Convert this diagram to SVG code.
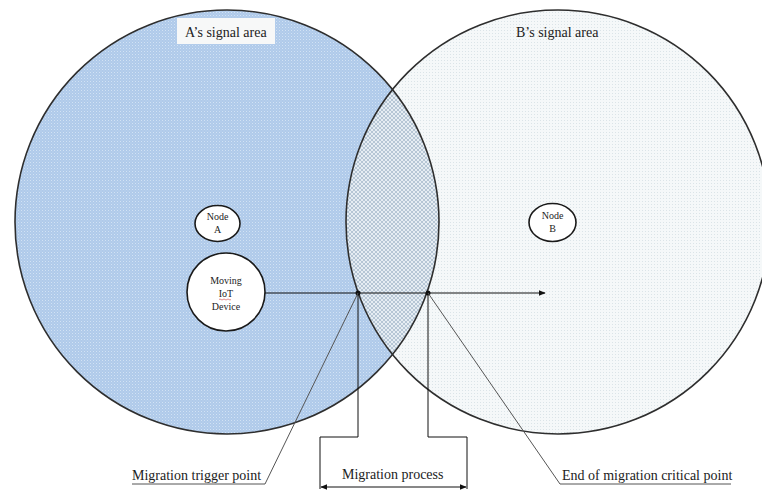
<svg xmlns="http://www.w3.org/2000/svg" width="762" height="490" viewBox="0 0 762 490">
  <style>
    text { font-family: "Liberation Serif", "Times New Roman", "DejaVu Serif", serif; fill: #222; }
    .lbl { font-size: 14px; }
    .small { font-size: 10px; text-anchor: middle; }
    .area { stroke: #2e2e2e; stroke-width: 1.6; fill: none; }
    .node { fill: #ffffff; stroke: #1a1a1a; stroke-width: 1.6; }
    .ln { stroke: #111; stroke-width: 1; fill: none; }
    .lead { stroke: #555; stroke-width: 1; fill: none; }
  </style>
  <defs>
    <pattern id="dotsA" width="3" height="3" patternUnits="userSpaceOnUse">
      <rect width="3" height="3" fill="#afcaea"/>
      <rect width="1" height="1" fill="#d2e2f4"/>
      <rect x="1.5" y="1.5" width="1" height="1" fill="#c4d8f0"/>
    </pattern>
    <pattern id="dotsB" width="3" height="3" patternUnits="userSpaceOnUse">
      <rect width="3" height="3" fill="#f5f8f9"/>
      <rect width="1" height="1" fill="#dbe4e8"/>
    </pattern>
    <pattern id="hatch" width="4" height="4" patternUnits="userSpaceOnUse">
      <rect width="4" height="4" fill="#e6edf3"/>
      <path d="M0 0 L4 4 M4 0 L0 4" stroke="#aabdcd" stroke-width="0.8"/>
    </pattern>
    <marker id="arrow" viewBox="0 0 10 10" refX="9" refY="5" markerWidth="7" markerHeight="7" orient="auto-start-reverse" markerUnits="userSpaceOnUse">
      <path d="M0 1 L10 5 L0 9 Z" fill="#111"/>
    </marker>
  </defs>

  <rect width="762" height="490" fill="#ffffff"/>

  <!-- signal areas -->
  <g id="areaA">
    <circle cx="227" cy="222" r="212" fill="url(#dotsA)"/>
  </g>
  <g id="areaB">
    <circle cx="558" cy="222" r="212" fill="url(#dotsB)"/>
  </g>
  <g id="overlap">
    <path d="M392.5 89.5 A212 212 0 0 1 392.5 354.5 A212 212 0 0 1 392.5 89.5 Z" fill="url(#hatch)"/>
  </g>
  <circle class="area" cx="227" cy="222" r="212"/>
  <circle class="area" cx="558" cy="222" r="212"/>

  <!-- area titles -->
  <g id="titleA">
    <rect x="177" y="18" width="98" height="26" fill="#f7f8f8"/>
    <text class="lbl" x="185" y="37">A’s signal area</text>
  </g>
  <g id="titleB">
    <text class="lbl" x="516" y="37">B’s signal area</text>
  </g>

  <!-- nodes -->
  <g id="nodeA">
    <ellipse class="node" cx="217.5" cy="223.5" rx="22.5" ry="18"/>
    <text class="small" x="217.5" y="219.5">Node</text>
    <text class="small" x="217.5" y="232.5">A</text>
  </g>
  <g id="nodeB">
    <ellipse class="node" cx="552.5" cy="222.5" rx="23.5" ry="19"/>
    <text class="small" x="552.5" y="219">Node</text>
    <text class="small" x="552.5" y="232">B</text>
  </g>
  <g id="device">
    <circle class="node" cx="226" cy="292" r="39"/>
    <text class="small" x="226" y="284">Moving</text>
    <text class="small" x="226" y="297">IoT</text>
    <path d="M219 299.5 q1 -1 2 0 t2 0 t2 0 t2 0 t2 0 t2 0" stroke="#d04040" stroke-width="0.6" fill="none"/>
    <text class="small" x="226" y="310">Device</text>
  </g>

  <!-- connectors -->
  <g id="connectors">
    <line class="ln" x1="265" y1="293" x2="545" y2="293" marker-end="url(#arrow)"/>
    <circle cx="358" cy="293" r="2.5" fill="#111"/>
    <circle cx="428" cy="293" r="2.5" fill="#111"/>
    <path class="ln" d="M358 293 V437 H320 V489"/>
    <path class="ln" d="M428 293 V437 H467 V489"/>
    <line class="ln" x1="321" y1="487" x2="466" y2="487" marker-start="url(#arrow)" marker-end="url(#arrow)"/>
    <path class="lead" d="M132 484 H265 L358 293"/>
    <path class="lead" d="M731 484 H560 L428 293"/>
  </g>

  <!-- callout labels -->
  <g id="labels">
    <text class="lbl" x="132" y="480">Migration trigger point</text>
    <text class="lbl" x="342" y="479">Migration process</text>
    <text class="lbl" x="562" y="480">End of migration critical point</text>
  </g>
</svg>
